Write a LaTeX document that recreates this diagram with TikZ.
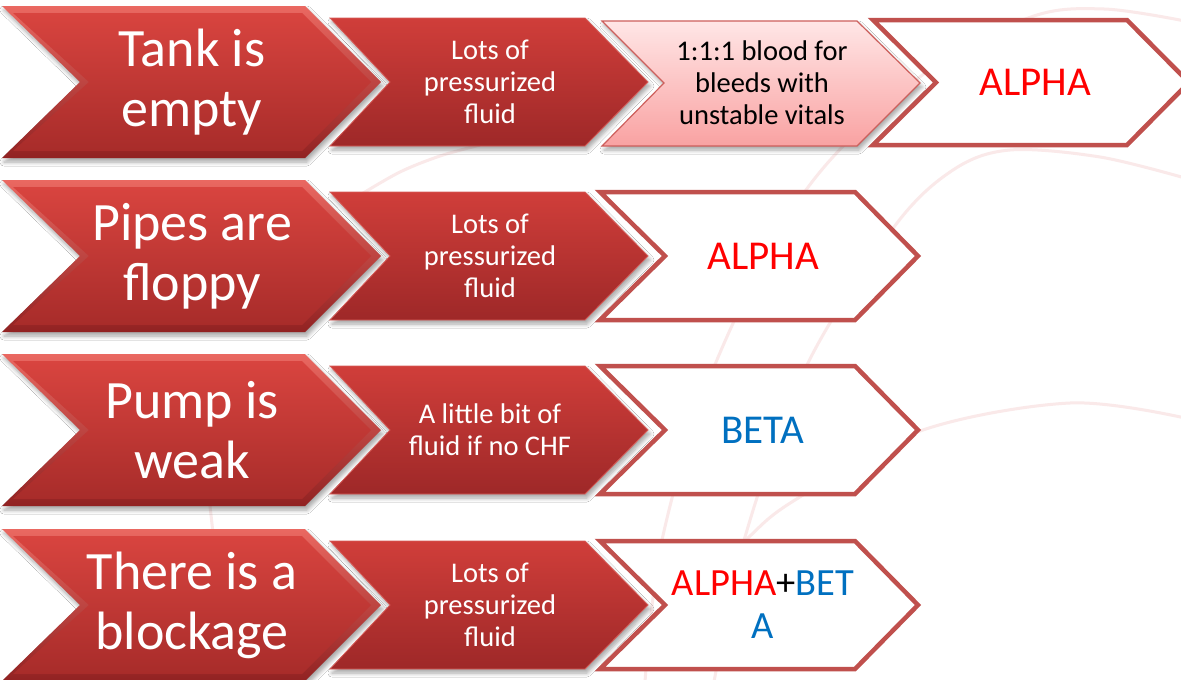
\documentclass[tikz,border=0pt]{standalone}
\usepackage{fontspec}
\setmainfont{Carlito}
\usetikzlibrary{shadows,shadows.blur}

\definecolor{acc}{RGB}{192,80,77}
\definecolor{aframeT}{RGB}{234,104,97}
\definecolor{aframeB}{RGB}{145,34,34}
\definecolor{abodyT}{RGB}{216,68,63}
\definecolor{abodyB}{RGB}{168,44,42}
\definecolor{bT}{RGB}{208,62,58}
\definecolor{bB}{RGB}{158,40,40}
\definecolor{bEdge}{RGB}{214,92,88}
\definecolor{cT}{RGB}{255,230,230}
\definecolor{cB}{RGB}{249,162,162}
\definecolor{cEdge}{RGB}{205,95,92}
\definecolor{arcpink}{RGB}{250,233,233}
\definecolor{alphared}{RGB}{255,0,0}
\definecolor{betablue}{RGB}{0,112,192}

\tikzset{
  bgarc/.style={draw=arcpink, line width=3pt},
  softshadow/.style={blur shadow={shadow xshift=2pt, shadow yshift=-4pt, shadow blur radius=4pt, shadow blur steps=6, shadow opacity=35}},
  aframe/.style={softshadow, top color=aframeT, bottom color=aframeB},
  abody/.style={top color=abodyT, bottom color=abodyB},
  bshape/.style={softshadow, top color=bT, bottom color=bB, draw=bEdge, line width=0.8pt},
  cshape/.style={softshadow, top color=cT, bottom color=cB, draw=cEdge, line width=1.2pt},
  dshape/.style={fill=white, draw=acc, line width=4.5pt, line join=miter},
  atext/.style={text=white, align=center, font=\fontsize{54}{60}\selectfont},
  btext/.style={text=white, align=center, font=\fontsize{28.5}{32}\selectfont},
  ctext/.style={text=black, align=center, font=\fontsize{28.5}{32}\selectfont},
  dtext/.style={align=center, font=\fontsize{41}{44}\selectfont}
}

\begin{document}
\begin{tikzpicture}[x=1pt,y=-1pt]
\useasboundingbox (0,0) rectangle (1181,680);
\clip (0,0) rectangle (1181,680);
\fill[white] (0,0) rectangle (1181,680);

% faint background arcs
\draw[bgarc] plot[smooth,tension=0.55] coordinates {(645,682) (662,540) (714,367) (806,190) (925,73) (1031,17) (1104,9) (1185,21)};
\draw[bgarc] plot[smooth,tension=0.55] coordinates {(714,682) (745,537) (806,367) (894,227) (953,170) (1010,150) (1100,157) (1185,178)};
\draw[bgarc] plot[smooth,tension=0.55] coordinates {(1185,418) (1070,403) (920,431) (795,500) (749,537) (700,590)};
\draw[bgarc] plot[smooth,tension=0.55] coordinates {(360,195) (400,172) (440,156) (480,145)};
\draw[bgarc] plot[smooth,tension=0.55] coordinates {(206,470) (211,515) (216,560)};

% red chevrons (columns 1 and 2)
\foreach \cy in {82,256,430,605}{
  \path[aframe] (2,\cy-76) -- (305,\cy-76) -- (381,\cy) -- (305,\cy+76) -- (2,\cy+76) -- (80,\cy) -- cycle;
  \path[abody] (13,\cy-69) -- (302,\cy-69) -- (371,\cy) -- (302,\cy+69) -- (13,\cy+69) -- (89,\cy) -- cycle;
  \path[bshape] (330,\cy-64) -- (585,\cy-64) -- (648,\cy) -- (585,\cy+64) -- (330,\cy+64) -- (390,\cy) -- cycle;
}

% row 1: pink chevron and outlined chevron
\path[cshape] (602,21) -- (857,21) -- (920,83) -- (857,146) -- (602,146) -- (664,83) -- cycle;
\path[dshape] (873,20) -- (1127,20) -- (1189,82.5) -- (1127,145) -- (873,145) -- (936,82.5) -- cycle;

% rows 2-4: outlined chevrons
\foreach \cy in {256,430,605}{
  \path[dshape] (600,\cy-64) -- (855,\cy-64) -- (918,\cy) -- (855,\cy+64) -- (600,\cy+64) -- (665,\cy) -- cycle;
}

% texts
\node[atext] (a1) at (192,82) {Tank is\\empty};
\node[atext] (a2) at (192,256) {Pipes are\\floppy};
\node[atext] (a3) at (192,430) {Pump is\\weak};
\node[atext] (a4) at (192,605) {There is a\\blockage};

\node[btext] (b1) at (490,82) {Lots of\\pressurized\\fluid};
\node[btext] (b2) at (490,256) {Lots of\\pressurized\\fluid};
\node[btext] (b3) at (490,430) {A little bit of\\fluid if no CHF};
\node[btext] (b4) at (490,605) {Lots of\\pressurized\\fluid};

\node[ctext] (c1) at (762,83) {1:1:1 blood for\\bleeds with\\unstable vitals};

\node[dtext, text=alphared] (d1) at (1035,82) {ALPHA};
\node[dtext, text=alphared] (d2) at (763,256) {ALPHA};
\node[dtext, text=betablue] (d3) at (763,430) {BETA};
\node[dtext, font=\fontsize{38.5}{43}\selectfont] (d4) at (763,605) {\textcolor{alphared}{ALPHA}+\textcolor{betablue}{BET}\\\textcolor{betablue}{A}};
\end{tikzpicture}
\end{document}
